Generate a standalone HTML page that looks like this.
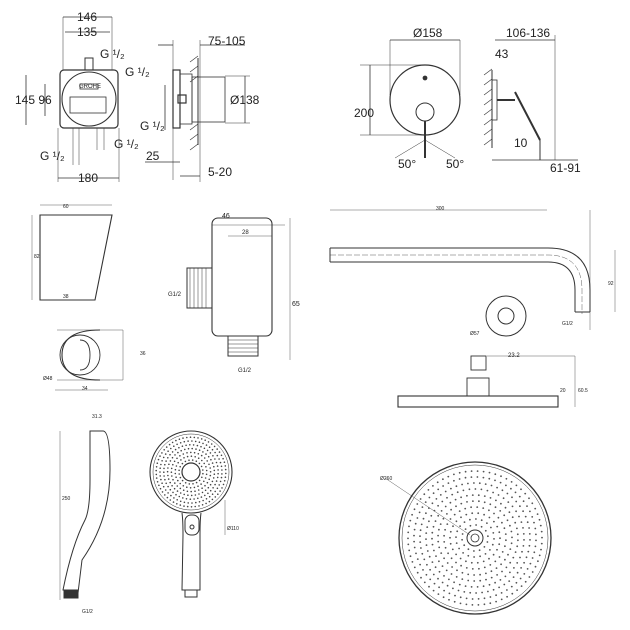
<!DOCTYPE html>
<html><head><meta charset="utf-8"><style>
html,body{margin:0;padding:0;background:#fff}
svg{display:block}
text{font-family:"Liberation Sans",sans-serif;fill:#222}
</style></head><body>
<svg id="s" width="630" height="630" viewBox="0 0 630 630" xmlns="http://www.w3.org/2000/svg" stroke="#333" fill="none" stroke-width="0.8">
<g>
<rect x="60" y="70" width="58" height="58" rx="4" stroke-width="1.2"/>
<circle cx="89" cy="99" r="27" stroke-width="1.1"/>
<rect x="85" y="58" width="8" height="12" stroke-width="1"/>
<rect x="80" y="84" width="18" height="5"/>
<text x="79" y="88" font-size="6" stroke="none">GROHE</text>
<rect x="70" y="97" width="36" height="16"/>
<line x1="63" y1="17" x2="63" y2="70" stroke-width="0.5"/><line x1="112" y1="17" x2="112" y2="70" stroke-width="0.5"/>
<line x1="63" y1="17" x2="112" y2="17"/><line x1="65" y1="32" x2="110" y2="32"/>
<text x="77" y="21" font-size="12" stroke="none">146</text><text x="77" y="36" font-size="12" stroke="none">135</text>
<line x1="58" y1="178" x2="119" y2="178"/><line x1="58" y1="128" x2="58" y2="182" stroke-width="0.5"/><line x1="119" y1="128" x2="119" y2="182" stroke-width="0.5"/>
<text x="78" y="182" font-size="12" stroke="none">180</text>
<line x1="26" y1="75" x2="26" y2="125"/><line x1="45" y1="84" x2="45" y2="116"/>
<text x="15" y="104" font-size="12" stroke="none">145 96</text>
<text x="100" y="58" font-size="12" stroke="none">G ¹/₂</text>
<text x="125" y="76" font-size="12" stroke="none">G ¹/₂</text>
<text x="40" y="160" font-size="12" stroke="none">G ¹/₂</text>
<text x="114" y="148" font-size="12" stroke="none">G ¹/₂</text>
<line x1="73" y1="128" x2="73" y2="165" stroke-width="0.5"/><line x1="79" y1="128" x2="79" y2="165" stroke-width="0.5"/>
<line x1="97" y1="128" x2="97" y2="150" stroke-width="0.5"/><line x1="104" y1="128" x2="104" y2="150" stroke-width="0.5"/>
<rect x="173" y="70" width="7" height="58" stroke-width="1.2"/>
<rect x="180" y="74" width="12" height="50"/>
<rect x="192" y="77" width="33" height="45"/>
<line x1="198" y1="58" x2="198" y2="145" stroke-width="1"/>
<path d="M190 62 l8 -6 M190 72 l8 -6 M190 82 l8 -6 M190 130 l8 -6 M190 140 l8 -6 M190 150 l8 -6" stroke-width="0.6"/>
<rect x="178" y="95" width="8" height="8" stroke-width="1.2"/>
<line x1="173" y1="40" x2="173" y2="180" stroke-width="0.5"/><line x1="200" y1="40" x2="200" y2="182" stroke-width="0.5"/>
<line x1="158" y1="45" x2="173" y2="45"/><line x1="200" y1="45" x2="245" y2="45"/>
<text x="208" y="45" font-size="12" stroke="none">75-105</text>
<line x1="245" y1="76" x2="245" y2="123"/><line x1="225" y1="76" x2="250" y2="76" stroke-width="0.5"/><line x1="225" y1="123" x2="250" y2="123" stroke-width="0.5"/>
<text x="230" y="104" font-size="12" stroke="none">Ø138</text>
<line x1="165" y1="85" x2="165" y2="130"/>
<text x="140" y="130" font-size="12" stroke="none">G ¹/₂</text>
<text x="146" y="160" font-size="12" stroke="none">25</text>
<line x1="145" y1="162" x2="180" y2="162"/>
<text x="208" y="176" font-size="12" stroke="none">5-20</text>
<line x1="180" y1="176" x2="200" y2="176"/>
</g>
<g>
<circle cx="425" cy="100" r="35" stroke-width="1.2"/>
<circle cx="425" cy="112" r="9" stroke-width="1"/>
<line x1="425" y1="121" x2="425" y2="158" stroke-width="2"/>
<circle cx="425" cy="78" r="2" fill="#333"/>
<line x1="390" y1="40" x2="460" y2="40"/><line x1="390" y1="40" x2="390" y2="95" stroke-width="0.5"/><line x1="460" y1="40" x2="460" y2="95" stroke-width="0.5"/>
<text x="413" y="37" font-size="12" stroke="none">Ø158</text>
<line x1="370" y1="65" x2="370" y2="135"/><line x1="360" y1="65" x2="425" y2="65" stroke-width="0.5"/><line x1="360" y1="135" x2="425" y2="135" stroke-width="0.5"/>
<text x="354" y="117" font-size="12" stroke="none">200</text>
<text x="398" y="168" font-size="12" stroke="none">50°</text><text x="446" y="168" font-size="12" stroke="none">50°</text>
<path d="M425 140 L395 158 M425 140 L455 158" stroke-width="0.5"/>
<line x1="492" y1="70" x2="492" y2="148" stroke-width="1"/>
<path d="M484 75 l8-6 M484 85 l8-6 M484 95 l8-6 M484 105 l8-6 M484 115 l8-6 M484 125 l8-6 M484 135 l8-6 M484 145 l8-6" stroke-width="0.6"/>
<rect x="492" y="80" width="5" height="40"/>
<line x1="497" y1="100" x2="515" y2="100" stroke-width="2"/>
<path d="M515 92 L540 140" stroke-width="2"/>
<line x1="540" y1="140" x2="540" y2="160" stroke-width="1"/>
<line x1="495" y1="40" x2="555" y2="40"/><text x="506" y="37" font-size="12" stroke="none">106-136</text>
<text x="495" y="58" font-size="12" stroke="none">43</text>
<text x="514" y="147" font-size="12" stroke="none">10</text>
<text x="550" y="172" font-size="12" stroke="none">61-91</text>
<line x1="492" y1="160" x2="578" y2="160"/>
<line x1="555" y1="35" x2="555" y2="160" stroke-width="0.5"/>
</g>
<g stroke-width="0.7">
<path d="M40 215 L112 215 L95 300 L40 300 Z" stroke-width="1.1"/>
<line x1="40" y1="205" x2="112" y2="205" stroke-width="0.4"/>
<text x="63" y="208" font-size="5" stroke="none">60</text>
<line x1="32" y1="215" x2="32" y2="300" stroke-width="0.4"/>
<text x="34" y="258" font-size="5" stroke="none">82</text>
<text x="63" y="298" font-size="5" stroke="none">38</text>
<path d="M57 330 L123 330 L123 380 L57 380" stroke-width="0.4"/>
<path d="M100 330 Q62 330 62 355 Q62 380 100 380" stroke-width="1.1"/>
<circle cx="80" cy="355" r="20" stroke-width="0.9"/>
<path d="M80 340 Q90 340 90 355 Q90 370 80 370" stroke-width="0.9"/>
<line x1="108" y1="390" x2="55" y2="390" stroke-width="0.4"/>
<text x="82" y="390" font-size="5" stroke="none">34</text>
<text x="43" y="380" font-size="5" stroke="none">Ø48</text>
<text x="140" y="355" font-size="5" stroke="none">36</text>
<rect x="212" y="218" width="60" height="118" rx="6" stroke-width="1.1"/>
<rect x="187" y="268" width="25" height="40" stroke-width="1"/>
<path d="M190 268 v40 M194 268 v40 M198 268 v40 M202 268 v40 M206 268 v40" stroke-width="0.5"/>
<rect x="228" y="336" width="30" height="20" stroke-width="1"/>
<path d="M228 340 h30 M228 344 h30 M228 348 h30 M228 352 h30" stroke-width="0.5"/>
<line x1="212" y1="225" x2="285" y2="225" stroke-width="0.4"/><text x="222" y="218" font-size="7" stroke="none">46</text>
<line x1="228" y1="236" x2="272" y2="236" stroke-width="0.4"/><text x="242" y="234" font-size="6" stroke="none">28</text>
<line x1="290" y1="218" x2="290" y2="360" stroke-width="0.4"/><text x="292" y="306" font-size="7" stroke="none">65</text>
<text x="238" y="372" font-size="6" stroke="none">G1/2</text>
<text x="168" y="296" font-size="6" stroke="none">G1/2</text>
</g>
<g stroke-width="0.7">
<line x1="330" y1="210" x2="547" y2="210" stroke-width="0.4"/>
<text x="436" y="210" font-size="5" stroke="none">300</text>
<path d="M330 248 L548 248 Q590 248 590 290 L590 312 M330 262 L548 262 Q575 262 575 290 L575 312 M575 312 H590" stroke-width="1"/>
<line x1="330" y1="248" x2="330" y2="262" stroke-width="1"/>
<path d="M330 255 L548 255 Q582 255 582 290 L582 314" stroke-dasharray="6 2" stroke-width="0.4"/>
<line x1="590" y1="210" x2="590" y2="330" stroke-width="0.4"/>
<line x1="615" y1="250" x2="615" y2="312" stroke-width="0.4"/>
<text x="608" y="285" font-size="5" stroke="none">92</text>
<circle cx="506" cy="316" r="20" stroke-width="1"/>
<circle cx="506" cy="316" r="8" stroke-width="1"/>
<text x="470" y="335" font-size="5" stroke="none">Ø57</text>
<text x="562" y="325" font-size="5" stroke="none">G1/2</text>
<rect x="471" y="356" width="15" height="14" stroke-width="0.9"/>
<rect x="467" y="378" width="22" height="18" stroke-width="0.9"/>
<rect x="398" y="396" width="160" height="11" stroke-width="1.1"/>
<line x1="487" y1="356" x2="575" y2="356" stroke-width="0.4"/><line x1="575" y1="356" x2="575" y2="407" stroke-width="0.4"/>
<text x="508" y="357" font-size="6" stroke="none">23.2</text>
<text x="560" y="392" font-size="5" stroke="none">20</text>
<text x="578" y="392" font-size="5" stroke="none">60.5</text>
</g>
<g stroke-width="1">
<path d="M90 431 L103 431 Q110 431 110 470 Q110 520 82 560 L78 593 L63 590 Q72 545 85 520 Q90 510 90 480 Z"/>
<rect x="64" y="590" width="14" height="8" fill="#333"/>
<line x1="60" y1="431" x2="60" y2="600" stroke-width="0.4"/>
<text x="92" y="418" font-size="5" stroke="none">31.3</text>
<text x="62" y="500" font-size="5" stroke="none">250</text>
<text x="82" y="613" font-size="5" stroke="none">G1/2</text>
<circle cx="191" cy="472" r="41" stroke-width="1.1"/>
<circle cx="191" cy="472" r="38" stroke-width="0.5"/>
<circle cx="191" cy="472" r="9" stroke-width="1.2"/>
<path d="M182 513 Q183 520 183 535 L182 590 L200 590 L200 535 Q200 520 201 513" stroke-width="1"/>
<rect x="185" y="515" width="14" height="20" rx="6"/>
<circle cx="192" cy="527" r="2"/>
<rect x="185" y="590" width="12" height="7" stroke-width="1"/>
<line x1="225" y1="500" x2="225" y2="535" stroke-width="0.4"/>
<text x="227" y="530" font-size="5" stroke="none">Ø110</text>
<g id="hd" fill="#444" stroke="none"></g>
</g>
<g stroke-width="1">
<circle cx="475" cy="538" r="76" stroke-width="1.3"/>
<circle cx="475" cy="538" r="73" stroke-width="0.5"/>
<circle cx="475" cy="538" r="8" stroke-width="1"/>
<circle cx="475" cy="538" r="4" stroke-width="0.8"/>
<line x1="385" y1="478" x2="470" y2="535" stroke-width="0.4"/>
<text x="380" y="480" font-size="5" stroke="none">Ø260</text>
<g id="bd" fill="#555" stroke="none"></g>
</g>
</svg>
<script>
function dots(id,cx,cy,r0,r1,step,rad){
 var g=document.getElementById(id),h='';
 for(var r=r0;r<=r1;r+=step){
  var n=Math.round(2*Math.PI*r/step);
  for(var i=0;i<n;i++){var a=i*2*Math.PI/n+r*0.3;
   h+='<circle cx="'+(cx+r*Math.cos(a)).toFixed(1)+'" cy="'+(cy+r*Math.sin(a)).toFixed(1)+'" r="'+rad+'"/>';}
 }
 g.innerHTML=h;
}
dots('hd',191,472,12,35,3.8,0.8);
dots('bd',475,538,13,68,6,0.9);
</script>
</body></html>
